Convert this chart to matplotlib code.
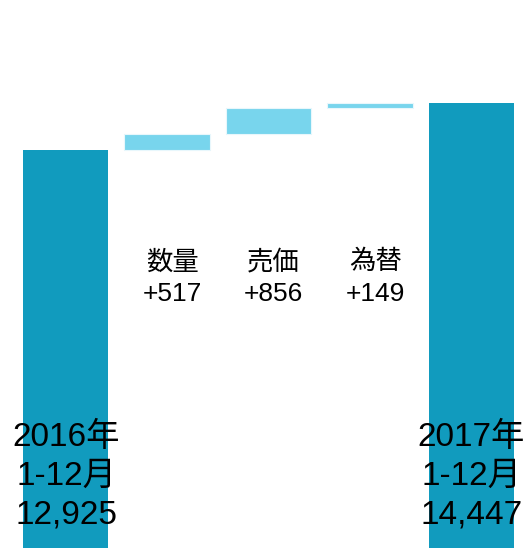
import matplotlib
matplotlib.use("Agg")
import matplotlib.pyplot as plt
import numpy as np

plt.rcParams['font.family'] = ['Liberation Sans', 'Noto Sans CJK JP', 'DejaVu Sans']

# data
start_label = "2016年\n1-12月"
end_label = "2017年\n1-12月"
start_value = 12925
end_value = 14447
step_names = ["数量", "売価", "為替"]
step_values = [517, 856, 149]

dark = "#119bbe"
light = "#78d5ed"

fig = plt.figure(figsize=(5.28, 5.48), dpi=100)
ax = fig.add_axes([0, 0, 1, 1])

x = np.arange(len(step_values) + 2)
w = 0.84

# totals
ax.bar(x[0], start_value, width=w, color=dark)
ax.bar(x[-1], end_value, width=w, color=dark)

# floating steps
bottoms = start_value + np.concatenate([[0], np.cumsum(step_values)[:-1]])
ax.bar(x[1:-1], step_values, bottom=bottoms, width=w, color=light,
       edgecolor="#e8f7fc", linewidth=0.8)

ax.text(x[0] + 0.01, 2320, f"{start_label}\n{start_value:,}", ha='center', va='center',
        fontsize=24, linespacing=1.32)
ax.text(x[-1], 2320, f"{end_label}\n{end_value:,}", ha='center', va='center',
        fontsize=24, linespacing=1.32)

for i, (name, v) in enumerate(zip(step_names, step_values)):
    ax.text(x[i + 1] + 0.05, 8770, f"{name}\n+{v:,}", ha='center', va='center',
            fontsize=19, linespacing=1.38)

ax.set_xlim(-0.645, 4.556)
ax.set_ylim(0, 17790)
ax.axis('off')

fig.savefig("out.png", dpi=100)
